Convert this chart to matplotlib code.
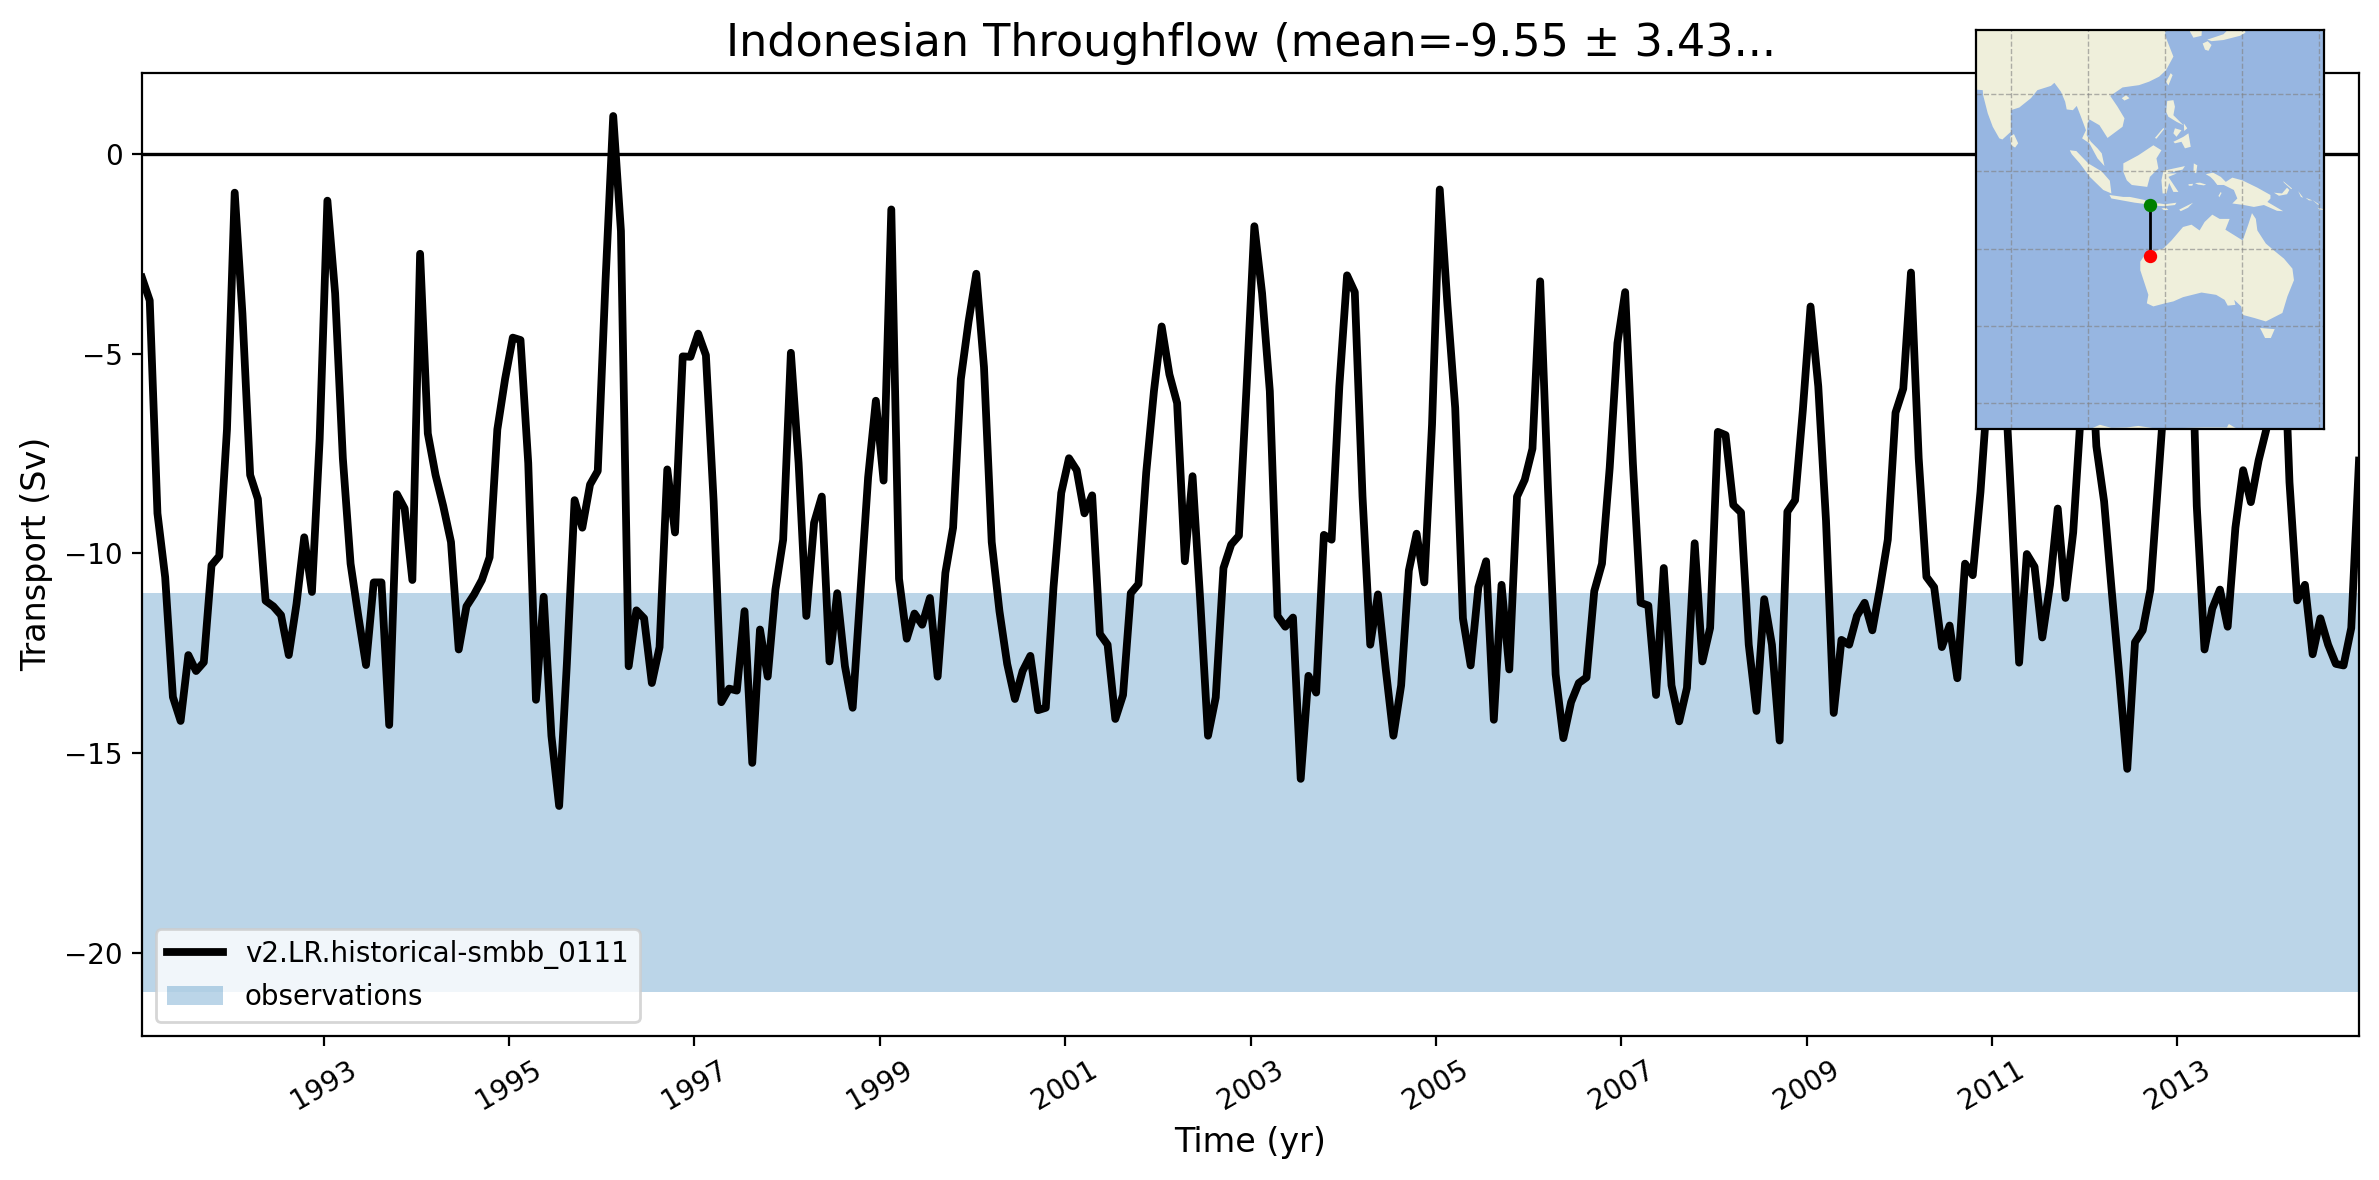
import matplotlib
matplotlib.use('Agg')
import matplotlib.pyplot as plt
from matplotlib.patches import Polygon
import numpy as np

# Monthly transport (Sv), 1991-2014
transport = [
    -3.10, -3.67, -9.00, -10.6, -13.6, -14.2, -12.55, -12.95, -12.73, -10.3, -10.07, -6.9,
    -0.97, -4.0, -8.04, -8.64, -11.19, -11.33, -11.55, -12.55, -11.27, -9.6, -10.97, -7.14,
    -1.17, -3.49, -7.62, -10.26, -11.57, -12.8, -10.73, -10.73, -14.3, -8.52, -8.88, -10.67,
    -2.5, -7.0, -8.04, -8.82, -9.72, -12.41, -11.33, -11.03, -10.67, -10.1, -6.9, -5.64,
    -4.6, -4.66, -7.74, -13.67, -11.09, -14.57, -16.33, -12.77, -8.67, -9.36, -8.28, -7.94,
    -3.2, 0.95, -1.93, -12.83, -11.43, -11.63, -13.25, -12.35, -7.9, -9.48, -5.07, -5.08,
    -4.5, -5.04, -8.7, -13.73, -13.39, -13.44, -11.45, -15.25, -11.91, -13.09, -10.91, -9.66,
    -4.98, -7.74, -11.57, -9.24, -8.58, -12.71, -11.0, -12.83, -13.87, -10.97, -8.1, -6.18,
    -8.18, -1.39, -10.64, -12.14, -11.51, -11.79, -11.12, -13.09, -10.49, -9.36, -5.64, -4.2,
    -3.0, -5.34, -9.72, -11.45, -12.77, -13.65, -12.95, -12.57, -13.93, -13.87, -10.85, -8.49,
    -7.62, -7.92, -9.0, -8.55, -12.02, -12.29, -14.15, -13.55, -11.0, -10.77, -7.98, -5.94,
    -4.32, -5.52, -6.24, -10.2, -8.07, -11.21, -14.57, -13.61, -10.37, -9.78, -9.56, -5.8,
    -1.81, -3.49, -5.94, -11.57, -11.84, -11.61, -15.65, -13.07, -13.49, -9.54, -9.66, -5.82,
    -3.04, -3.46, -8.58, -12.29, -11.03, -12.89, -14.57, -13.31, -10.43, -9.51, -10.73, -6.78,
    -0.89, -3.79, -6.36, -11.63, -12.81, -10.85, -10.2, -14.17, -10.79, -12.91, -8.58, -8.16,
    -7.38, -3.19, -8.34, -13.03, -14.63, -13.73, -13.25, -13.11, -10.95, -10.26, -7.86, -4.74,
    -3.46, -7.74, -11.24, -11.31, -13.55, -10.37, -13.31, -14.21, -13.37, -9.75, -12.71, -11.87,
    -6.96, -7.04, -8.79, -8.98, -12.29, -13.95, -11.15, -12.29, -14.69, -8.96, -8.67, -6.42,
    -3.82, -5.82, -9.18, -14.0, -12.17, -12.29, -11.57, -11.24, -11.93, -10.85, -9.66, -6.48,
    -5.88, -2.97, -7.62, -10.59, -10.85, -12.35, -11.81, -13.13, -10.26, -10.55, -8.46, -5.7,
    -2.5, -5.0, -8.76, -12.74, -10.02, -10.34, -12.11, -10.79, -8.88, -11.12, -9.48, -6.45,
    -3.5, -7.32, -8.7, -10.97, -13.13, -15.4, -12.23, -11.93, -10.91, -8.2, -5.5, -3.0,
    -2.5, -2.0, -8.82, -12.41, -11.39, -10.91, -11.84, -9.36, -7.92, -8.72, -7.68, -6.9,
    -4.5, -3.0, -8.22, -11.18, -10.79, -12.53, -11.63, -12.29, -12.77, -12.81, -11.87, -7.68,
]
time = 1991 + (np.arange(len(transport)) + 0.5) / 12

obs_range = [-21, -11]
year_ticks = list(range(1993, 2014, 2))
run_name = 'v2.LR.historical-smbb_0111'

# Transect end points
section_lon = [116, 116]
section_lat = [-8.6, -22]

# Land outlines for the inset map (lon, lat)
asia = [(70, 38), (70, 21.3), (72.6, 21.1), (72.7, 19.8), (73.9, 15.1), (75.2, 11.6), (76.9, 8.6), (77.7, 8.3),
        (79.9, 10.3), (79.9, 15.9), (82.1, 16.6), (85.1, 19), (86.8, 21.1), (90.3, 22.2), (91.2, 23), (92.9, 20.7),
        (94, 18.1), (94.4, 16.1), (96, 15.9), (97, 17), (98.1, 14.2), (99.4, 10.7), (98.4, 8.6), (100.3, 7.3),
        (102.4, 3.4), (104.2, 1.4), (103.5, 4.7), (102.4, 6), (100.7, 7.7), (99.6, 9.4), (99.8, 12.5), (100.3, 13.5),
        (102.9, 12), (105, 8.7), (108.9, 11.6), (109.4, 13.8), (107.6, 16.8), (105.7, 19.6), (108.9, 21.8),
        (113.2, 22.4), (115.8, 23.3), (118.4, 24.6), (120.2, 26.3), (122.1, 29.8), (119.9, 35.4), (120.3, 38)]
hainan = [(108.7, 19), (109.8, 19.8), (110.7, 19), (109.4, 18.4)]
sri_lanka = [(79.7, 9), (80.7, 9.7), (81.8, 7.3), (81, 6.2), (80, 6.8)]
sumatra = [(95.2, 5.5), (96.9, 5.3), (100, 2.1), (103.5, 0), (105.6, -2.4), (106, -5.7), (103.9, -4.8),
           (100.4, -1.4), (97.8, 2.1), (95.7, 4.5)]
java = [(105.5, -6.1), (109.1, -6.6), (110.8, -6.6), (114.7, -7.4), (115.3, -8.5), (112.1, -8.1),
        (108.2, -7.4), (106, -7)]
sumbawa = [(116, -8.2), (118.6, -8.3), (119.9, -8.5), (122.9, -8.1), (122.5, -8.7), (119.9, -9), (117.5, -8.9)]
sumba = [(119, -9.6), (120.2, -9.4), (120.8, -10), (119.6, -10)]
timor = [(123.6, -9.9), (127.2, -8.1), (125.9, -9.4), (124, -10.3)]
borneo = [(109.1, 2.1), (113, 4.2), (116.9, 6.8), (119, 5.5), (117.7, 3.4), (118.2, 0.8), (116, -1.4),
          (115.3, -4), (111.3, -3.5), (110, -2.3), (109.1, -0.1)]
sulawesi = [(119.5, 0.2), (125.1, 1.4), (124.5, 0.5), (120.3, -0.5), (123, -0.5), (120.8, -1.4), (123.4, -5.3),
            (122.1, -5.3), (121, -3), (120.3, -5.7), (119.3, -5.7), (119, -2.3)]
halmahera = [(127.4, 2.1), (128.3, 1.6), (128, -0.5), (127.3, -0.1)]
buru = [(126, -3.3), (127.2, -3.2), (127, -3.7), (126.1, -3.7)]
seram = [(127.7, -3), (129, -2.9), (130.6, -3.4), (130, -3.6), (128.5, -3.4)]
aru = [(134.4, -5.3), (134.6, -5.6), (134, -6.7), (133.8, -6.3)]
new_guinea = [(130.5, -0.7), (132.4, -0.3), (134.4, -1.4), (135.7, -2.7), (137.4, -1.6), (140, -2.3), (143.9, -4.2),
              (147.3, -6.1), (147.3, -7), (146.5, -7.9), (150.6, -10.3), (149, -10.2), (145.6, -8.7), (143, -9.2),
              (140.4, -8.7), (137.4, -8.3), (138.7, -7), (137.8, -4.8), (135.2, -3.5), (133.5, -3.5), (132.6, -2.3),
              (131.7, -1.4)]
new_britain = [(148.2, -5.5), (150.3, -5.7), (151.6, -4.2), (152.2, -4.8), (151.6, -5.9), (149.5, -6.3)]
new_ireland = [(150.6, -2.5), (152.9, -4.4), (152.7, -4.6), (150.8, -2.9)]
bougainville = [(154.5, -5.1), (155.8, -6.8), (155.2, -6.6)]
solomon_a = [(156.4, -6.8), (158.2, -7.5), (157.3, -7.5)]
solomon_b = [(158.2, -7.4), (159.9, -8.5), (159.7, -8.7)]
solomon_c = [(159.5, -9.4), (160.9, -9.7), (160.9, -10), (160, -9.8)]
australia = [(142.5, -10.8), (143.5, -12.3), (143.9, -15.3), (146.1, -18.7), (148.7, -20.9), (150.8, -22.6),
             (153, -25.2), (153.4, -28.2), (151.7, -32.4), (150.4, -36.7), (146.1, -38.9), (143.1, -38),
             (140.1, -37.2), (139.7, -35), (137.9, -33.3), (138.2, -34.6), (136.2, -34.8), (135.4, -33.3),
             (133.2, -32), (129.4, -31.4), (124.6, -32.6), (122.1, -33.7), (119.9, -34.2), (116.9, -35),
             (115.2, -34.2), (115.6, -32), (113.5, -25.6), (113.5, -23.4), (114.9, -21.3), (119.5, -20),
             (121.6, -17.9), (124.6, -14.4), (126.8, -13.8), (128.9, -15.3), (130.2, -13.1), (132.2, -11.2),
             (134.1, -12.3), (136.7, -12.3), (135.6, -15.1), (140.1, -17.9), (141.6, -13.6)]
tasmania = [(144.6, -40.6), (148.4, -40.9), (147.4, -43.2), (145.9, -43.2)]
luzon = [(120.5, 18.3), (122.1, 18.5), (122.5, 16.8), (122.1, 14.6), (124.7, 12), (122.9, 12.9), (120.8, 14.2), (120.2, 15.5)]
mindanao = [(122.1, 7.7), (124.7, 9), (126, 9.9), (126.6, 6.4), (125.1, 6), (124.2, 7.7), (122.5, 7.3)]
visayas = [(122.5, 11.2), (124.2, 10.7), (122.9, 9), (122.1, 9.9)]
samar = [(124.8, 12.5), (125.7, 11.2), (124.9, 10.5)]
palawan = [(117.3, 8.7), (119.5, 11.3), (119.7, 11), (117.7, 8.5)]
taiwan = [(121.4, 25.5), (121.9, 25), (120.8, 22.3), (120.2, 23.3)]
korea = [(126.4, 38), (126.4, 36.3), (127.3, 34.7), (129.4, 35.2), (129.6, 38)]
honshu = [(130.9, 34.2), (135.1, 35.6), (137, 37.5), (140.3, 38), (140.8, 36), (139.4, 35.2), (135.1, 34.1), (132, 33.8)]
kyushu = [(129.7, 33.2), (131, 33.8), (132, 32.8), (131.2, 31.3), (130.3, 31.6)]
antarctica = [(100, -68), (101, -66.6), (103, -65.7), (106, -66.5), (110, -66.4), (113, -66), (117, -66.6),
              (122, -66.6), (130, -66.4), (136, -66.4), (136.5, -65.5), (138, -66.4), (142, -68)]
land = [asia, hainan, sri_lanka, sumatra, java, sumbawa, sumba, timor, borneo, sulawesi, halmahera, buru, seram, aru,
        new_guinea, new_britain, new_ireland, bougainville, solomon_a, solomon_b, solomon_c, australia, tasmania,
        luzon, mindanao, visayas, samar, palawan, taiwan, korea, honshu, kyushu, antarctica]

fig = plt.figure(figsize=(2379 / 200, 1180 / 200), dpi=200)
ax = fig.add_axes([142 / 2379, 1 - 1036 / 1180, 2217 / 2379, 963.5 / 1180])

ax.plot(time, transport, color='k', lw=2.8, label=run_name)
ax.axhline(0, color='k', lw=1.2)
ax.axhspan(obs_range[0], obs_range[1], color='C0', alpha=0.3, lw=0, label='observations')

ax.set_xlim(time[0], time[-1])
ax.set_ylim(-22.09, 2.04)
ax.set_xticks(year_ticks)
ax.set_xticklabels(year_ticks, rotation=30)
ax.set_xlabel('Time (yr)', fontsize=12)
ax.set_ylabel('Transport (Sv)', fontsize=12)
ax.set_title('Indonesian Throughflow (mean=-9.55 ± 3.43...', fontsize=16)
ax.legend(loc='lower left')

# Inset map of the section
inset = fig.add_axes([1976 / 2379, 1 - 429 / 1180, 348 / 2379, 399 / 1180])
inset.set_facecolor((0.59375, 0.71484375, 0.8828125))
for outline in land:
    inset.add_patch(Polygon(outline, closed=True, facecolor=(0.9375, 0.9375, 0.859375), edgecolor='none'))
inset.set_xticks([80, 100, 120, 140, 160])
inset.set_yticks([20, 0, -20, -40, -60])
inset.grid(True, color='gray', ls='--', lw=0.5, alpha=0.6)
inset.tick_params(length=0, labelbottom=False, labelleft=False)
inset.plot(section_lon, section_lat, color='k', lw=1)
inset.plot(section_lon[0], section_lat[0], 'o', color='g', ms=3.8)
inset.plot(section_lon[1], section_lat[1], 'o', color='r', ms=3.8)
inset.set_xlim(70.85, 161.2)
inset.set_ylim(-66.8, 36.7)

fig.savefig('out.png', dpi=200)
